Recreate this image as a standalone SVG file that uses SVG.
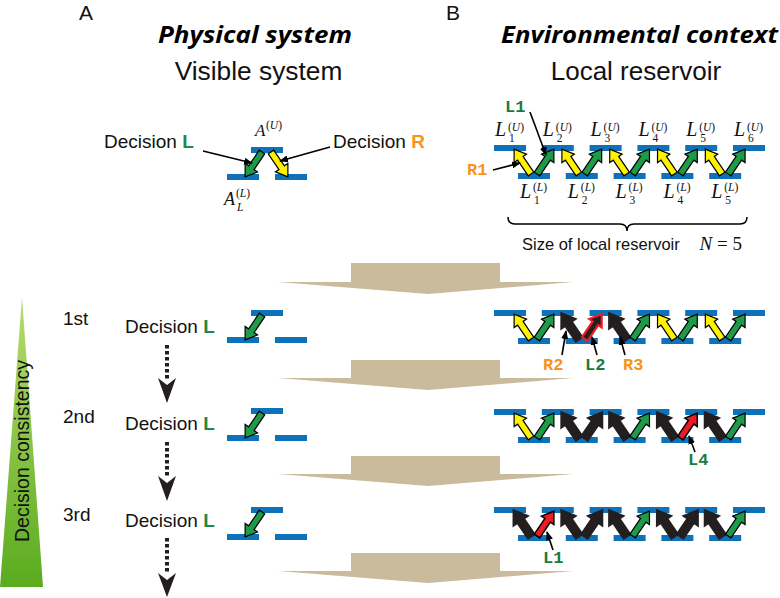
<svg xmlns="http://www.w3.org/2000/svg" width="780" height="598" viewBox="0 0 780 598">
<style>
.sans{font-family:"Liberation Sans",Arial,sans-serif;fill:#111}
.head{font-family:"Open Sans","DejaVu Sans",sans-serif;font-weight:bold;font-style:italic;font-size:24px;fill:#000}
.serif{font-family:"Liberation Serif","Times New Roman",serif;fill:#111}
.it{font-style:italic}
.mono{font-family:"Liberation Mono","Courier New",monospace;font-weight:bold;font-size:17px}
.or{fill:#f7941d}
.gr{fill:#1b7a3e}
.bar{fill:#0f72b9}
.ay{fill:#fff200;stroke:#000;stroke-width:1.2}
.ag{fill:#1f9a48;stroke:#000;stroke-width:1.2}
.ab{fill:#231f20;stroke:#231f20;stroke-width:3.2}
.abr{fill:#231f20;stroke:#ed1c24;stroke-width:2.2}
.ar{fill:#ed1c24;stroke:#000;stroke-width:1.5}
.ptr{stroke:#000;stroke-width:1.6;fill:none;marker-end:url(#mk)}
.beige{fill:#c9bb9c}
.dots{stroke:#231f20;stroke-width:4;stroke-dasharray:3.5 2.5;fill:none}
.dhead{fill:#231f20}
</style>
<defs>
<path id="ar" d="M0,-3.3 L19,-3.3 L19,-7.5 L30,0 L19,7.5 L19,3.3 L0,3.3 Z"/>
<marker id="mk" markerUnits="userSpaceOnUse" markerWidth="9" markerHeight="7" refX="8" refY="3.5" orient="auto">
<path d="M0,0 L9,3.5 L0,7 Z" fill="#000"/>
</marker>
<linearGradient id="tg" x1="0" y1="0" x2="0" y2="1">
<stop offset="0" stop-color="#b8dc6e"/>
<stop offset="1" stop-color="#5aab1e"/>
</linearGradient>
</defs>

<!-- Titles -->
<g id="titles">
<text class="sans" x="79" y="20" font-size="21">A</text>
<text class="sans" x="446" y="20" font-size="21">B</text>
<text class="head" x="158" y="43" textLength="194" lengthAdjust="spacingAndGlyphs">Physical system</text>
<text class="sans" x="258.5" y="80" font-size="26.3" text-anchor="middle">Visible system</text>
<text class="head" x="501" y="43" textLength="277" lengthAdjust="spacingAndGlyphs">Environmental context</text>
<text class="sans" x="636" y="80" font-size="26" text-anchor="middle">Local reservoir</text>
</g>

<!-- Beige progression arrows -->
<g id="flow-arrows">
<polygon class="beige" points="351,263 500,263 500,282 573,282 428,294 278,282 351,282"/>
<polygon class="beige" points="351,360 500,360 500,378 573,378 428,390 278,378 351,378"/>
<polygon class="beige" points="351,456 500,456 500,474 573,474 428,486 278,474 351,474"/>
<polygon class="beige" points="351,553 500,553 500,571 573,571 428,583 278,571 351,571"/>
</g>

<!-- Decision consistency triangle -->
<g id="consistency">
<polygon points="22,297 43,587 0,587" fill="url(#tg)"/>
<text class="sans" font-size="19.5" text-anchor="middle" transform="translate(29,451) rotate(-90)">Decision consistency</text>
</g>

<!-- Panel A: visible system (top) -->
<g id="visible-system">
<rect class="bar" x="251" y="147" width="32" height="6"/>
<rect class="bar" x="227" y="174" width="32" height="6"/>
<rect class="bar" x="275" y="174" width="32" height="6"/>
<use href="#ar" class="ag" transform="translate(262,152) rotate(124.2)"/>
<use href="#ar" class="ay" transform="translate(271,152) rotate(55.8)"/>
<text class="serif it" x="255" y="136" font-size="17">A</text>
<text class="serif" x="266" y="129" font-size="11.5">(<tspan class="it">U</tspan>)</text>
<text class="serif it" x="224" y="205" font-size="18">A</text>
<text class="serif" x="236" y="197" font-size="11.5">(<tspan class="it">L</tspan>)</text>
<text class="serif it" x="237" y="211" font-size="11.5">L</text>
<text class="sans" x="104" y="148" font-size="19">Decision <tspan font-weight="bold" fill="#1e8a45">L</tspan></text>
<text class="sans" x="333" y="148" font-size="19">Decision <tspan font-weight="bold" fill="#f7941d">R</tspan></text>
</g>

<!-- Panel B: local reservoir (top) -->
<g id="local-reservoir">
<rect class="bar" x="494" y="145" width="32" height="6"/>
<rect class="bar" x="541.8" y="145" width="32" height="6"/>
<rect class="bar" x="589.6" y="145" width="32" height="6"/>
<rect class="bar" x="637.4" y="145" width="32" height="6"/>
<rect class="bar" x="685.2" y="145" width="32" height="6"/>
<rect class="bar" x="733" y="145" width="32" height="6"/>
<rect class="bar" x="518" y="173" width="32" height="6"/>
<rect class="bar" x="565.8" y="173" width="32" height="6"/>
<rect class="bar" x="613.6" y="173" width="32" height="6"/>
<rect class="bar" x="661.4" y="173" width="32" height="6"/>
<rect class="bar" x="709.2" y="173" width="32" height="6"/>
<use href="#ar" class="ay" transform="translate(531,174) rotate(-124.2)"/>
<use href="#ar" class="ag" transform="translate(537,174) rotate(-55.8)"/>
<use href="#ar" class="ay" transform="translate(578.8,174) rotate(-124.2)"/>
<use href="#ar" class="ag" transform="translate(584.8,174) rotate(-55.8)"/>
<use href="#ar" class="ay" transform="translate(626.6,174) rotate(-124.2)"/>
<use href="#ar" class="ag" transform="translate(632.6,174) rotate(-55.8)"/>
<use href="#ar" class="ay" transform="translate(674.4,174) rotate(-124.2)"/>
<use href="#ar" class="ag" transform="translate(680.4,174) rotate(-55.8)"/>
<use href="#ar" class="ay" transform="translate(722.2,174) rotate(-124.2)"/>
<use href="#ar" class="ag" transform="translate(728.2,174) rotate(-55.8)"/>
<!-- upper labels -->
<g class="serif">
<text x="495" y="136" font-size="20" class="it">L</text><text x="508" y="131" font-size="11.5">(<tspan class="it">U</tspan>)</text><text x="509" y="142" font-size="11.5">1</text>
<text x="542.8" y="136" font-size="20" class="it">L</text><text x="555.8" y="131" font-size="11.5">(<tspan class="it">U</tspan>)</text><text x="556.8" y="142" font-size="11.5">2</text>
<text x="590.6" y="136" font-size="20" class="it">L</text><text x="603.6" y="131" font-size="11.5">(<tspan class="it">U</tspan>)</text><text x="604.6" y="142" font-size="11.5">3</text>
<text x="638.4" y="136" font-size="20" class="it">L</text><text x="651.4" y="131" font-size="11.5">(<tspan class="it">U</tspan>)</text><text x="652.4" y="142" font-size="11.5">4</text>
<text x="686.2" y="136" font-size="20" class="it">L</text><text x="699.2" y="131" font-size="11.5">(<tspan class="it">U</tspan>)</text><text x="700.2" y="142" font-size="11.5">5</text>
<text x="734" y="136" font-size="20" class="it">L</text><text x="747" y="131" font-size="11.5">(<tspan class="it">U</tspan>)</text><text x="748" y="142" font-size="11.5">6</text>
<text x="520" y="198" font-size="20" class="it">L</text><text x="533" y="191" font-size="11.5">(<tspan class="it">L</tspan>)</text><text x="534" y="204" font-size="11.5">1</text>
<text x="567.8" y="198" font-size="20" class="it">L</text><text x="580.8" y="191" font-size="11.5">(<tspan class="it">L</tspan>)</text><text x="581.8" y="204" font-size="11.5">2</text>
<text x="615.6" y="198" font-size="20" class="it">L</text><text x="628.6" y="191" font-size="11.5">(<tspan class="it">L</tspan>)</text><text x="629.6" y="204" font-size="11.5">3</text>
<text x="663.4" y="198" font-size="20" class="it">L</text><text x="676.4" y="191" font-size="11.5">(<tspan class="it">L</tspan>)</text><text x="677.4" y="204" font-size="11.5">4</text>
<text x="711.2" y="198" font-size="20" class="it">L</text><text x="724.2" y="191" font-size="11.5">(<tspan class="it">L</tspan>)</text><text x="725.2" y="204" font-size="11.5">5</text>
</g>
<path d="M508,217 Q508,224 515,224 L620,224 Q627,224 627,231 Q627,224 634,224 L740,224 Q747,224 747,217" fill="none" stroke="#000" stroke-width="1.5"/>
<text class="sans" x="522" y="250" font-size="16.5">Size of local reservoir</text>
<text class="serif" x="742" y="250" font-size="19" text-anchor="end"><tspan class="it">N</tspan> = 5</text>
<text class="mono gr" x="505" y="112" font-size="18">L1</text>
<text class="mono or" x="467" y="175" font-size="18">R1</text>
</g>

<!-- Row 1 -->
<g id="row1-visible">
<text class="sans" x="63" y="325" font-size="19">1st</text>
<rect class="bar" x="251" y="310" width="32" height="6"/>
<rect class="bar" x="227" y="337" width="32" height="6"/>
<rect class="bar" x="275" y="337" width="32" height="6"/>
<use href="#ar" class="ag" transform="translate(262,315) rotate(124.2)"/>
<text class="sans" x="125" y="333" font-size="19">Decision <tspan font-weight="bold" fill="#1e8a45">L</tspan></text>
</g>
<g id="row1-reservoir">
<rect class="bar" x="494" y="310" width="32" height="6"/>
<rect class="bar" x="541.8" y="310" width="32" height="6"/>
<rect class="bar" x="589.6" y="310" width="32" height="6"/>
<rect class="bar" x="637.4" y="310" width="32" height="6"/>
<rect class="bar" x="685.2" y="310" width="32" height="6"/>
<rect class="bar" x="733" y="310" width="32" height="6"/>
<rect class="bar" x="518" y="338" width="32" height="6"/>
<rect class="bar" x="565.8" y="338" width="32" height="6"/>
<rect class="bar" x="613.6" y="338" width="32" height="6"/>
<rect class="bar" x="661.4" y="338" width="32" height="6"/>
<rect class="bar" x="709.2" y="338" width="32" height="6"/>
<use href="#ar" class="ay" transform="translate(531,339) rotate(-124.2)"/>
<use href="#ar" class="ag" transform="translate(537,339) rotate(-55.8)"/>
<use href="#ar" class="ab" transform="translate(578.8,339) rotate(-124.2)"/>
<use href="#ar" class="abr" transform="translate(584.8,339) rotate(-55.8)"/>
<use href="#ar" class="ab" transform="translate(626.6,339) rotate(-124.2)"/>
<use href="#ar" class="ag" transform="translate(632.6,339) rotate(-55.8)"/>
<use href="#ar" class="ay" transform="translate(674.4,339) rotate(-124.2)"/>
<use href="#ar" class="ag" transform="translate(680.4,339) rotate(-55.8)"/>
<use href="#ar" class="ay" transform="translate(722.2,339) rotate(-124.2)"/>
<use href="#ar" class="ag" transform="translate(728.2,339) rotate(-55.8)"/>
<text class="mono or" x="543" y="370">R2</text>
<text class="mono gr" x="585" y="370">L2</text>
<text class="mono or" x="623" y="370">R3</text>
</g>

<!-- Row 2 -->
<g id="row2-visible">
<text class="sans" x="63" y="423" font-size="19">2nd</text>
<rect class="bar" x="251" y="408" width="32" height="6"/>
<rect class="bar" x="227" y="435" width="32" height="6"/>
<rect class="bar" x="275" y="435" width="32" height="6"/>
<use href="#ar" class="ag" transform="translate(262,413) rotate(124.2)"/>
<text class="sans" x="125" y="430" font-size="19">Decision <tspan font-weight="bold" fill="#1e8a45">L</tspan></text>
</g>
<g id="row2-reservoir">
<rect class="bar" x="494" y="409" width="32" height="6"/>
<rect class="bar" x="541.8" y="409" width="32" height="6"/>
<rect class="bar" x="589.6" y="409" width="32" height="6"/>
<rect class="bar" x="637.4" y="409" width="32" height="6"/>
<rect class="bar" x="685.2" y="409" width="32" height="6"/>
<rect class="bar" x="733" y="409" width="32" height="6"/>
<rect class="bar" x="518" y="437" width="32" height="6"/>
<rect class="bar" x="565.8" y="437" width="32" height="6"/>
<rect class="bar" x="613.6" y="437" width="32" height="6"/>
<rect class="bar" x="661.4" y="437" width="32" height="6"/>
<rect class="bar" x="709.2" y="437" width="32" height="6"/>
<use href="#ar" class="ay" transform="translate(531,438) rotate(-124.2)"/>
<use href="#ar" class="ag" transform="translate(537,438) rotate(-55.8)"/>
<use href="#ar" class="ab" transform="translate(578.8,438) rotate(-124.2)"/>
<use href="#ar" class="ab" transform="translate(584.8,438) rotate(-55.8)"/>
<use href="#ar" class="ab" transform="translate(626.6,438) rotate(-124.2)"/>
<use href="#ar" class="ag" transform="translate(632.6,438) rotate(-55.8)"/>
<use href="#ar" class="ab" transform="translate(674.4,438) rotate(-124.2)"/>
<use href="#ar" class="ar" transform="translate(680.4,438) rotate(-55.8)"/>
<use href="#ar" class="ab" transform="translate(722.2,438) rotate(-124.2)"/>
<use href="#ar" class="ag" transform="translate(728.2,438) rotate(-55.8)"/>
<text class="mono gr" x="688" y="465">L4</text>
</g>

<!-- Row 3 -->
<g id="row3-visible">
<text class="sans" x="63" y="521" font-size="19">3rd</text>
<rect class="bar" x="251" y="507" width="32" height="6"/>
<rect class="bar" x="227" y="534" width="32" height="6"/>
<rect class="bar" x="275" y="534" width="32" height="6"/>
<use href="#ar" class="ag" transform="translate(262,512) rotate(124.2)"/>
<text class="sans" x="125" y="527" font-size="19">Decision <tspan font-weight="bold" fill="#1e8a45">L</tspan></text>
</g>
<g id="row3-reservoir">
<rect class="bar" x="494" y="507" width="32" height="6"/>
<rect class="bar" x="541.8" y="507" width="32" height="6"/>
<rect class="bar" x="589.6" y="507" width="32" height="6"/>
<rect class="bar" x="637.4" y="507" width="32" height="6"/>
<rect class="bar" x="685.2" y="507" width="32" height="6"/>
<rect class="bar" x="733" y="507" width="32" height="6"/>
<rect class="bar" x="518" y="535" width="32" height="6"/>
<rect class="bar" x="565.8" y="535" width="32" height="6"/>
<rect class="bar" x="613.6" y="535" width="32" height="6"/>
<rect class="bar" x="661.4" y="535" width="32" height="6"/>
<rect class="bar" x="709.2" y="535" width="32" height="6"/>
<use href="#ar" class="ab" transform="translate(531,536) rotate(-124.2)"/>
<use href="#ar" class="ar" transform="translate(537,536) rotate(-55.8)"/>
<use href="#ar" class="ab" transform="translate(578.8,536) rotate(-124.2)"/>
<use href="#ar" class="ab" transform="translate(584.8,536) rotate(-55.8)"/>
<use href="#ar" class="ab" transform="translate(626.6,536) rotate(-124.2)"/>
<use href="#ar" class="ag" transform="translate(632.6,536) rotate(-55.8)"/>
<use href="#ar" class="ab" transform="translate(674.4,536) rotate(-124.2)"/>
<use href="#ar" class="ab" transform="translate(680.4,536) rotate(-55.8)"/>
<use href="#ar" class="ab" transform="translate(722.2,536) rotate(-124.2)"/>
<use href="#ar" class="ag" transform="translate(728.2,536) rotate(-55.8)"/>
<text class="mono gr" x="543" y="563">L1</text>
</g>

<!-- Connectors -->
<g id="connectors">
<line class="ptr" x1="203" y1="151" x2="252" y2="163"/>
<line class="ptr" x1="330" y1="147" x2="280" y2="161"/>
<line class="ptr" x1="530" y1="112" x2="546" y2="155"/>
<line class="ptr" x1="493" y1="170" x2="520" y2="163"/>
<line class="ptr" x1="562" y1="355" x2="566" y2="331"/>
<line class="ptr" x1="597" y1="355" x2="592" y2="337"/>
<line class="ptr" x1="625" y1="355" x2="620" y2="337"/>
<line class="ptr" x1="695" y1="452" x2="689" y2="436"/>
<line class="ptr" x1="553" y1="550" x2="547" y2="532"/>
<line class="dots" x1="167" y1="345" x2="167" y2="380"/>
<polygon class="dhead" points="158,378 167,385 176,378 167,403"/>
<line class="dots" x1="167" y1="442" x2="167" y2="477"/>
<polygon class="dhead" points="158,476 167,483 176,476 167,501"/>
<line class="dots" x1="167" y1="538" x2="167" y2="574"/>
<polygon class="dhead" points="158,573 167,580 176,573 167,597"/>
</g>
</svg>
